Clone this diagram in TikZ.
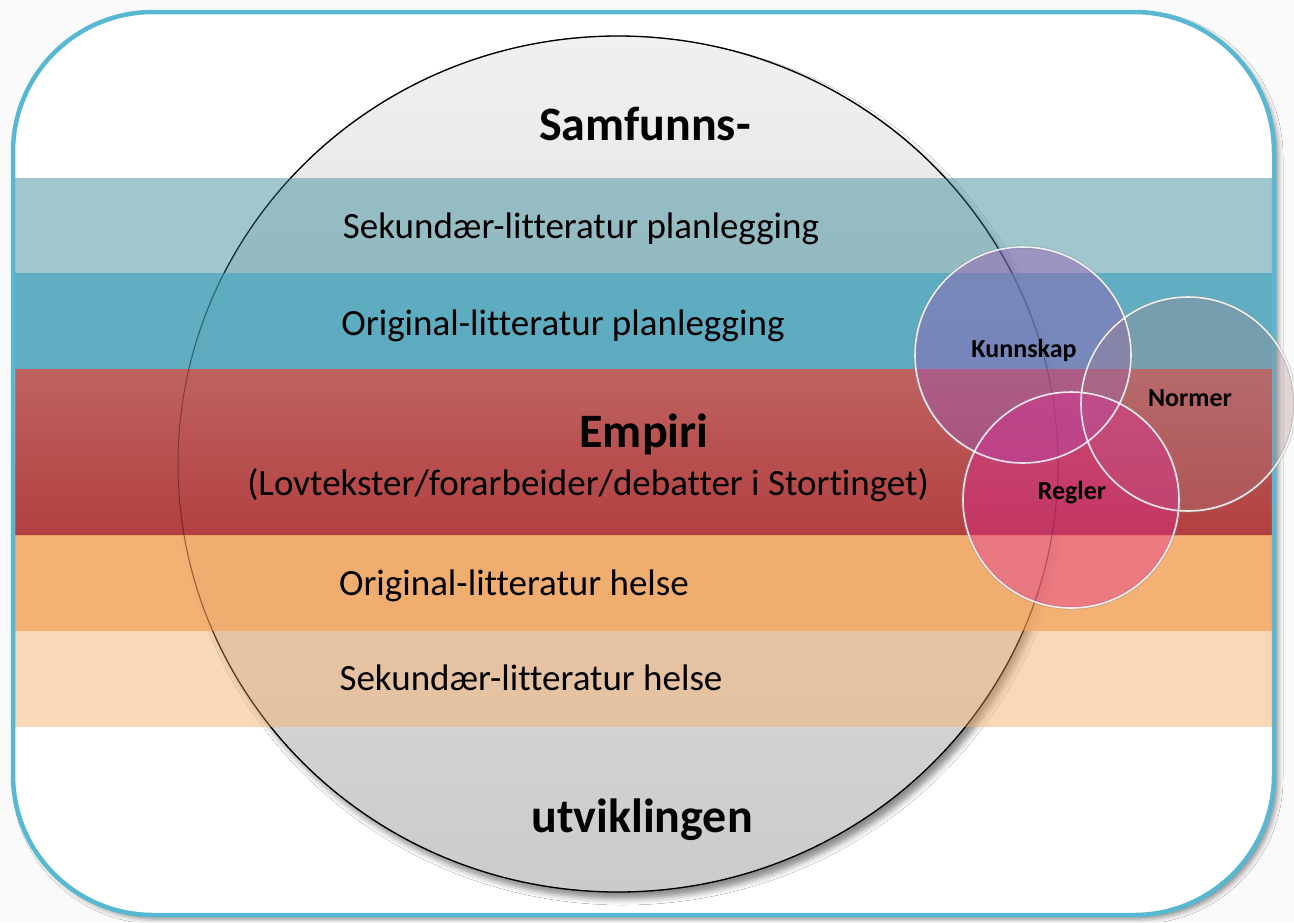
\documentclass[tikz,border=0pt]{standalone}
\usepackage{fontspec}
\setmainfont[Ligatures=NoCommon]{Carlito}
\usetikzlibrary{shadows.blur}

\definecolor{pagebg}{RGB}{250,250,250}
\definecolor{frame}{RGB}{88,184,209}
\definecolor{tealA}{RGB}{67,143,159}
\definecolor{tealB}{RGB}{80,166,188}
\definecolor{redTop}{RGB}{191,98,98}
\definecolor{redMid}{RGB}{197,82,85}
\definecolor{redBot}{RGB}{178,64,64}
\definecolor{orA}{RGB}{243,169,101}
\definecolor{orB}{RGB}{245,177,113}
\definecolor{discTop}{RGB}{240,240,240}
\definecolor{discBot}{RGB}{203,203,203}
\definecolor{lensK}{RGB}{150,90,180}
\definecolor{lensN}{RGB}{165,125,130}
\definecolor{lensR}{RGB}{222,40,150}

\begin{document}
\begin{tikzpicture}[x=1pt,y=-1pt,
  lbl/.style={anchor=base, inner sep=0pt, font=\fontsize{37}{44}\selectfont},
  head/.style={anchor=base, inner sep=0pt, font=\fontsize{48}{56}\selectfont\bfseries},
  lenslbl/.style={anchor=base, inner sep=0pt, font=\fontsize{26}{31}\selectfont\bfseries},
  lensfill/.style={fill=#1, fill opacity=.45},
  lensrim/.style={draw=white, draw opacity=.85, line width=1.6pt},
  lensedge/.style={draw=black!45, draw opacity=.35, line width=3.5pt},
]
\useasboundingbox (0,0) rectangle (1294,922);
\fill[pagebg] (0,0) rectangle (1294,922);

% panel
\fill[white, rounded corners=140pt,
  blur shadow={shadow xshift=4pt, shadow yshift=-4pt, shadow opacity=45, shadow blur radius=5pt}]
  (13,12) rectangle (1274,915);

% central disc
\fill[top color=discTop, bottom color=discBot,
  blur shadow={shadow xshift=5pt, shadow yshift=-7pt, shadow opacity=45, shadow blur radius=6pt}]
  (618,464) ellipse [x radius=440pt, y radius=428pt];
\draw[black, line width=1.3pt] (618,464) ellipse [x radius=440pt, y radius=428pt];

% horizontal bands
\fill[tealA, fill opacity=.5] (13,178) rectangle (1274,273);
\fill[tealB, fill opacity=.9] (13,273) rectangle (1274,369);
\fill[top color=redTop, middle color=redMid, bottom color=redBot]
  (13,369) rectangle (1274,535);
\fill[orA, fill opacity=.9] (13,535) rectangle (1274,631);
\fill[orB, fill opacity=.5] (13,631) rectangle (1274,727);

% disc outline seen through the bands
\draw[black, line width=1pt, opacity=.35] (618,464) ellipse [x radius=440pt, y radius=428pt];

% panel border
\draw[frame, line width=4.5pt, rounded corners=140pt] (13,12) rectangle (1274,915);

% overlapping lenses
\path[lensedge] (1023,355) circle [radius=108pt];
\path[lensedge] (1188,404) circle [radius=107pt];
\path[lensedge] (1071,500) circle [radius=108pt];
\path[lensfill=lensK] (1023,355) circle [radius=108pt];
\path[lensfill=lensN, fill opacity=.3] (1188,404) circle [radius=107pt];
\path[lensfill=lensR, fill opacity=.4] (1071,500) circle [radius=108pt];
\path[lensrim] (1023,355) circle [radius=108pt];
\path[lensrim] (1188,404) circle [radius=107pt];
\path[lensrim] (1071,500) circle [radius=108pt];

% texts
\node[head] (samf) at (645,140) {Samfunns-};
\node[lbl] (sekplan) at (581,238) {Sekundær-litteratur planlegging};
\node[lbl] (origplan) at (563,335) {Original-litteratur planlegging};
\node[head] (empiri) at (644,447) {Empiri};
\node[lbl] (lov) at (588,495) {(Lovtekster/forarbeider/debatter i Stortinget)};
\node[lbl] (orighelse) at (514,595) {Original-litteratur helse};
\node[lbl] (sekhelse) at (531,690) {Sekundær-litteratur helse};
\node[head] (utv) at (642,832) {utviklingen};

\node[lenslbl] (kunn) at (1024,357) {Kunnskap};
\node[lenslbl] (norm) at (1190,406) {Normer};
\node[lenslbl] (regl) at (1072,499) {Regler};
\end{tikzpicture}
\end{document}
